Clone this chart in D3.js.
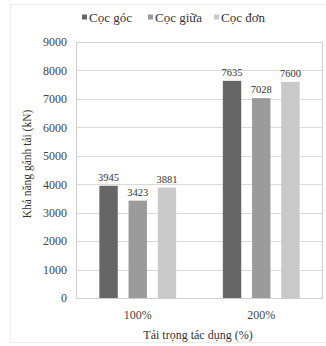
<!DOCTYPE html>
<html>
<head>
<meta charset="utf-8">
<script src="https://cdn.jsdelivr.net/npm/d3@7"></script>
<style>
  html, body { margin: 0; padding: 0; background: #fff; }
  svg { display: block; }
</style>
</head>
<body>
<svg id="chart" width="326" height="346"></svg>
<script>
// Load categories and pile types
const categories = ["100%", "200%"];
const seriesNames = ["Cọc góc", "Cọc giữa", "Cọc đơn"];
// Bearing capacity (kN) per pile type, one value per load category
const cocGoc = [3945, 7635];
const cocGiua = [3423, 7028];
const cocDon = [3881, 7600];
const yTicks = [0, 1000, 2000, 3000, 4000, 5000, 6000, 7000, 8000, 9000];
const colors = ["#666666", "#9b9b9b", "#c9c9c9"];

const seriesValues = [cocGoc, cocGiua, cocDon];
const rows = categories.map((c, i) => ({
  category: c,
  values: seriesNames.map((s, j) => ({ series: s, value: seriesValues[j][i] }))
}));

const svg = d3.select("#chart");
const margin = { left: 76, top: 42, right: 3, bottom: 48 };
const W = 326, H = 346;
const plotW = W - margin.left - margin.right;
const plotH = H - margin.top - margin.bottom;

// faint outer chart frame
svg.append("rect")
  .attr("x", 10.5).attr("y", 4.5)
  .attr("width", 330).attr("height", 338)
  .attr("fill", "none").attr("stroke", "#ececec");

const g = svg.append("g").attr("transform", `translate(${margin.left},${margin.top})`);

const y = d3.scaleLinear().domain([0, 9000]).range([plotH, 0]);
const x0 = d3.scaleBand().domain(categories).range([0, plotW]).paddingInner(0).paddingOuter(0);
const x1 = d3.scaleBand().domain(seriesNames).range([0, x0.bandwidth()])
  .paddingInner(0.37).paddingOuter(0.8);
const color = d3.scaleOrdinal().domain(seriesNames).range(colors);

// gridlines
g.append("g")
  .selectAll("line")
  .data(yTicks)
  .join("line")
  .attr("x1", 0).attr("x2", plotW)
  .attr("y1", d => Math.round(y(d)) + 0.5).attr("y2", d => Math.round(y(d)) + 0.5)
  .attr("stroke", "#d9d9d9").attr("stroke-width", 1);

// plot border
g.append("rect")
  .attr("x", 0.5).attr("y", 0.5)
  .attr("width", plotW - 1).attr("height", plotH)
  .attr("fill", "none").attr("stroke", "#cfcfcf");

// y axis
const yAxis = g.append("g")
  .call(d3.axisLeft(y).tickValues(yTicks).tickSize(0).tickPadding(9).tickFormat(d3.format("d")));
yAxis.select(".domain").remove();
yAxis.selectAll("text")
  .attr("font-size", 12).attr("fill", "#444");

// x axis labels
const xAxis = g.append("g")
  .attr("transform", `translate(0,${plotH})`)
  .call(d3.axisBottom(x0).tickSize(0).tickPadding(12));
xAxis.select(".domain").remove();
xAxis.selectAll("text")
  .attr("font-size", 12).attr("fill", "#444");

// bars
const groups = g.append("g")
  .selectAll("g")
  .data(rows)
  .join("g")
  .attr("transform", d => `translate(${x0(d.category)},0)`);

groups.selectAll("rect")
  .data(d => d.values)
  .join("rect")
  .attr("x", d => x1(d.series))
  .attr("y", d => y(d.value))
  .attr("width", x1.bandwidth())
  .attr("height", d => plotH - y(d.value))
  .attr("fill", d => color(d.series));

// value labels
groups.selectAll("text")
  .data(d => d.values)
  .join("text")
  .attr("x", d => x1(d.series) + x1.bandwidth() / 2)
  .attr("y", d => y(d.value) - 5)
  .attr("text-anchor", "middle")
  .attr("font-size", 10.5)
  .attr("fill", "#333")
  .text(d => d.value);

// y axis title
svg.append("text")
  .attr("transform", `translate(31,${margin.top + plotH / 2 - 6}) rotate(-90)`)
  .attr("text-anchor", "middle")
  .attr("font-size", 11.5).attr("fill", "#333")
  .text("Khả năng gánh tải (kN)");

// x axis title
svg.append("text")
  .attr("x", 198).attr("y", 339)
  .attr("text-anchor", "middle")
  .attr("font-size", 12).attr("fill", "#333")
  .text("Tải trọng tác dụng (%)");

// legend
const legendX = [82, 148, 214];
const legend = svg.append("g")
  .selectAll("g")
  .data(seriesNames)
  .join("g")
  .attr("transform", (d, i) => `translate(${legendX[i]},18)`);
legend.append("rect")
  .attr("x", 0).attr("y", -3.5).attr("width", 5).attr("height", 5)
  .attr("fill", d => color(d));
legend.append("text")
  .attr("x", 7).attr("y", 3.5)
  .attr("font-size", 13).attr("fill", "#333")
  .text(d => d);

// serif face for every label
svg.selectAll("text").style("font-family", '"Liberation Serif", "Times New Roman", serif');
</script>
</body>
</html>
